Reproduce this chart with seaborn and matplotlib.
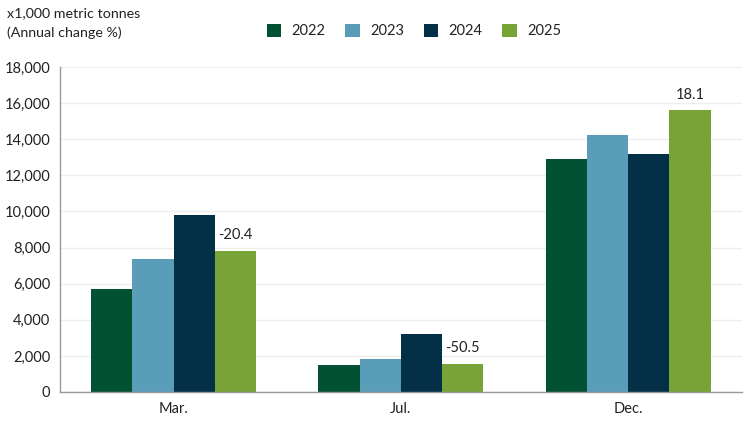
import numpy as np
import pandas as pd
import matplotlib
import matplotlib.pyplot as plt
import seaborn as sns
from matplotlib.patches import Patch

months = ['Mar.', 'Jul.', 'Dec.']
years = ['2022', '2023', '2024', '2025']
v2022 = [5720, 1480, 12920]
v2023 = [7380, 1850, 14210]
v2024 = [9820, 3210, 13210]
v2025 = [7820, 1570, 15600]
change_2025 = ['-20.4', '-50.5', '18.1']
colors = ['#035133', '#5A9DB8', '#033047', '#78A337']

df = pd.DataFrame({
    'month': months * 4,
    'year': sum([[y] * 3 for y in years], []),
    'value': v2022 + v2023 + v2024 + v2025,
})

sns.set_theme(style='white')
plt.rcParams['font.family'] = ['Lato', 'DejaVu Sans']
TXT = '#222222'

fig = plt.figure(figsize=(7.5, 4.22), dpi=100)
ax = fig.add_axes([0.08, 0.0711, 0.909, 0.77])

sns.barplot(data=df, x='month', y='value', hue='year', order=months, hue_order=years,
            palette=colors, width=0.727, gap=0, saturation=1, edgecolor='none',
            legend=False, ax=ax)

ax.set_xlim(-0.5, 2.5)
ax.set_ylim(0, 18000)
ax.set_yticks(np.arange(0, 18001, 2000))
ax.yaxis.set_major_formatter(matplotlib.ticker.FuncFormatter(lambda v, p: f'{int(v):,}'))
ax.grid(axis='y', color='#eeeeee', lw=1)
ax.set_axisbelow(True)
for s in ['top', 'right']:
    ax.spines[s].set_visible(False)
for s in ['left', 'bottom']:
    ax.spines[s].set_color('#999999')
    ax.spines[s].set_linewidth(1)
ax.tick_params(axis='both', length=0, labelsize=10.5, colors=TXT, pad=7)

ax.set_xlabel('')
ax.set_ylabel('')

# annual change labels above the 2025 bars
ax.bar_label(ax.containers[3], labels=change_2025, padding=6, fontsize=10.5, color=TXT)

fig.text(0.0093, 0.969, 'x1,000 metric tonnes', fontsize=10.3, color=TXT, va='center')
fig.text(0.0093, 0.922, '(Annual change %)', fontsize=10.3, color=TXT, va='center')

handles = [Patch(facecolor=c, edgecolor='none') for c in colors]
fig.legend(handles, years, loc='center', bbox_to_anchor=(0.552, 0.927), ncol=4,
           frameon=False, fontsize=10.5, handlelength=1.0, handleheight=1.0,
           handletextpad=0.7, columnspacing=1.35, labelcolor=TXT)

fig.savefig('out.png', dpi=100)
